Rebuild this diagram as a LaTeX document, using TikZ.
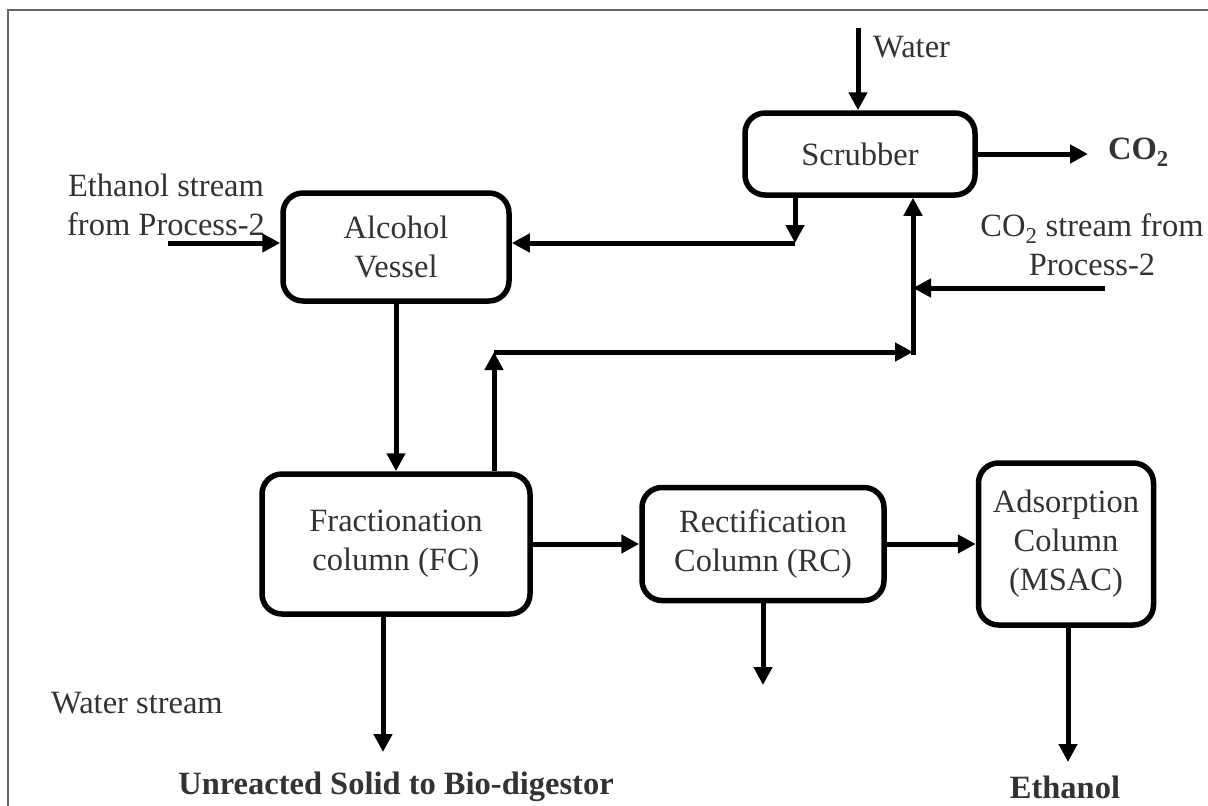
\documentclass[tikz,border=0pt]{standalone}
\usepackage{fontspec}
\setmainfont{Liberation Serif}
\usetikzlibrary{arrows.meta, positioning}

\begin{document}
\begin{tikzpicture}[
  x=1pt, y=-1pt,
  every node/.style={font=\fontsize{32.5}{39}\selectfont, text=black!80},
  unit/.style={draw=black, line width=5.5pt, rounded corners=20pt, align=center, inner sep=0pt},
  flow/.style={line width=5pt, -{Triangle[length=18pt,width=18pt]}},
  lbl/.style={align=center, inner sep=0pt},
  product/.style={font=\bfseries\fontsize{32.5}{39}\selectfont, inner sep=0pt}
]
  \useasboundingbox (0,0) rectangle (1208,806);
  \draw[black!60, line width=1.5pt] (8,806) -- (8,10) -- (1208,10);

  \node[unit, minimum width=230pt, minimum height=82pt] (scrub) at (860,154) {Scrubber};
  \node[unit, minimum width=226pt, minimum height=108pt] (alc) at (396,247) {Alcohol\\Vessel};
  \node[unit, minimum width=268pt, minimum height=140pt] (fc) at (396,544) {Fractionation\\column (FC)};
  \node[unit, minimum width=242pt, minimum height=113pt] (rc) at (763,544) {Rectification\\Column (RC)};
  \node[unit, minimum width=175pt, minimum height=162pt] (ads) at (1066,544) {Adsorption\\Column\\(MSAC)};

  \node[lbl, anchor=west] (water) at (873,47) {Water};
  \node[lbl] (ethin) at (166,205) {Ethanol stream\\from Process-2};
  \node[lbl] (co2in) at (1092,245) {CO\textsubscript{2} stream from\\Process-2};
  \node[lbl] (watout) at (137,703) {Water stream};
  \node[product] (solid) at (396,787) {Unreacted Solid to Bio-digestor};
  \node[product] (eth) at (1065,787) {Ethanol};
  \node[product, anchor=west] (co2) at (1108,152) {CO\textsubscript{2}};

  \coordinate (wtop) at (858,28);
  \coordinate (ein) at (168,243);
  \coordinate (co2end) at (1088,152);
  \coordinate (jret) at (795,243);
  \coordinate (cin) at (1105,288);
  \coordinate (jco2) at (913,288);
  \coordinate (jtop) at (913,352);
  \coordinate (jfc) at (494,352);
  \coordinate (rcout) at (763,685);
  \coordinate (fcout) at (383,752);
  \coordinate (adsout) at (1068,762);

  \draw[flow] (wtop) -- (wtop |- scrub.north);
  \draw[flow] (scrub.east) -- (scrub.east -| co2end);
  \draw[flow] (ein) -- (ein -| alc.west);
  \draw[flow] (scrub.south -| jret) -- (jret);
  \draw[flow] (jret) -- (jret -| alc.east);
  \draw[flow] (cin) -- (jco2);
  \draw[flow] ([yshift=-2.5pt]jtop) -- (jtop |- scrub.south);
  \draw[flow] (fc.north -| jfc) -- (jfc);
  \draw[flow] (jfc) -- (jtop);
  \draw[flow] (alc.south) -- (fc.north);
  \draw[flow] (fc.east) -- (rc.west);
  \draw[flow] (rc.east) -- (ads.west);
  \draw[flow] (rc.south) -- (rcout);
  \draw[flow] (fc.south -| fcout) -- (fcout);
  \draw[flow] (ads.south -| adsout) -- (adsout);
\end{tikzpicture}
\end{document}
